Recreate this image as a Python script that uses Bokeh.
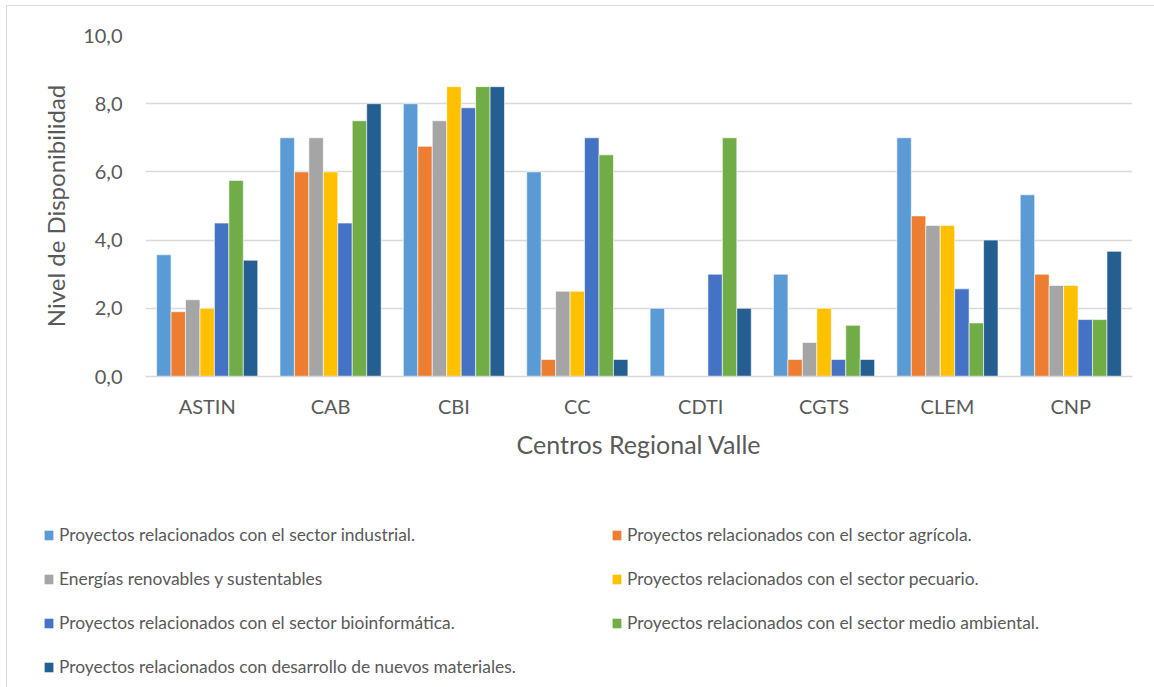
from bokeh.plotting import figure
from bokeh.layouts import column
from bokeh.models import (FactorRange, Range1d, Legend, LegendItem,
                          CustomJSTickFormatter, FixedTicker, ColumnDataSource)
from bokeh.transform import dodge
from bokeh.embed import file_html
from bokeh.resources import INLINE

# Regional centres on the x axis
centros = ["ASTIN", "CAB", "CBI", "CC", "CDTI", "CGTS", "CLEM", "CNP"]

# Availability level per project line, one value per centre
industrial = [3.57, 7.0, 8.0, 6.0, 2.0, 3.0, 7.0, 5.33]
agricola = [1.9, 6.0, 6.75, 0.5, 0.0, 0.5, 4.71, 3.0]
energias = [2.25, 7.0, 7.5, 2.5, 0.0, 1.0, 4.43, 2.67]
pecuario = [2.0, 6.0, 8.5, 2.5, 0.0, 2.0, 4.43, 2.67]
bioinformatica = [4.5, 4.5, 7.88, 7.0, 3.0, 0.5, 2.57, 1.67]
medio_ambiental = [5.75, 7.5, 8.5, 6.5, 7.0, 1.5, 1.57, 1.67]
nuevos_materiales = [3.41, 8.0, 8.5, 0.5, 2.0, 0.5, 4.0, 3.67]

series_names = [
    "Proyectos relacionados con el sector industrial.",
    "Proyectos relacionados con el sector agrícola.",
    "Energías renovables y sustentables",
    "Proyectos relacionados con el sector pecuario.",
    "Proyectos relacionados con el sector bioinformática.",
    "Proyectos relacionados con el sector medio ambiental.",
    "Proyectos relacionados con desarrollo de nuevos materiales.",
]
series_values = [industrial, agricola, energias, pecuario,
                 bioinformatica, medio_ambiental, nuevos_materiales]
colors = ["#5B9BD5", "#ED7D31", "#A5A5A5", "#FFC000",
          "#4472C4", "#70AD47", "#255E91"]

y_ticks = [0, 2, 4, 6, 8, 10]

FONT = "Lato"
TEXT = "#595959"
GRID = "#D9D9D9"

source = ColumnDataSource(dict(centro=centros,
                               **{f"s{i}": v for i, v in enumerate(series_values)}))

n = len(series_values)
group = 0.82
bar_w = group / n
offsets = [(i - (n - 1) / 2) * bar_w for i in range(n)]

# ---- bar chart ----
p = figure(x_range=FactorRange(*centros, range_padding=0), y_range=(0, 10),
           width=1147, height=464, output_backend="svg", toolbar_location=None,
           min_border_left=138, min_border_right=22, min_border_top=29,
           min_border_bottom=94)
p.frame_align = False
p.outline_line_color = None
p.background_fill_color = "white"
p.border_fill_color = "white"

for i in range(n):
    p.vbar(x=dodge("centro", offsets[i], range=p.x_range), top=f"s{i}",
           width=bar_w, source=source, fill_color=colors[i],
           line_color="white", line_width=0.6)

p.yaxis.ticker = FixedTicker(ticks=y_ticks)
p.yaxis.formatter = CustomJSTickFormatter(code="return tick.toFixed(1).replace('.', ',');")
p.yaxis.axis_line_color = None
p.yaxis.major_tick_line_color = None
p.yaxis.minor_tick_line_color = None
p.yaxis.major_label_standoff = 17
p.yaxis.major_label_text_font = FONT
p.yaxis.major_label_text_font_size = "20px"
p.yaxis.major_label_text_color = TEXT
p.yaxis.axis_label = "Nivel de Disponibilidad"
p.yaxis.axis_label_text_font = FONT
p.yaxis.axis_label_text_font_size = "24px"
p.yaxis.axis_label_text_font_style = "normal"
p.yaxis.axis_label_text_color = TEXT
p.yaxis.axis_label_standoff = 10

p.xaxis.axis_line_color = GRID
p.xaxis.axis_line_width = 1.5
p.xaxis.major_tick_line_color = None
p.xaxis.minor_tick_line_color = None
p.xaxis.major_label_standoff = 11
p.xaxis.major_label_text_font = FONT
p.xaxis.major_label_text_font_size = "20px"
p.xaxis.major_label_text_color = TEXT
p.xaxis.axis_label = "Centros Regional Valle"
p.xaxis.axis_label_text_font = FONT
p.xaxis.axis_label_text_font_size = "25px"
p.xaxis.axis_label_text_font_style = "normal"
p.xaxis.axis_label_text_color = TEXT
p.xaxis.axis_label_standoff = 8

p.xgrid.grid_line_color = None
p.ygrid.grid_line_color = GRID
p.ygrid.grid_line_width = 1.5

# ---- legend strip under the chart ----
# the strip's y range sits above every bar, so its renderers only feed the legend
lg = figure(width=1147, height=217, output_backend="svg", toolbar_location=None,
            x_range=FactorRange(*centros), y_range=Range1d(11, 12),
            x_axis_location=None, y_axis_location=None,
            min_border=0, min_border_left=0, min_border_right=0,
            min_border_top=0, min_border_bottom=0, outline_line_color=None)
lg.frame_align = False
lg.grid.visible = False
swatches = [lg.vbar(x=dodge("centro", offsets[i], range=lg.x_range), top=f"s{i}",
                    width=bar_w, source=source, fill_color=colors[i],
                    line_color=None)
            for i in range(n)]


def legend_column(idx, loc):
    leg = Legend(items=[LegendItem(label=series_names[i], renderers=[swatches[i]])
                        for i in idx],
                 location=loc, orientation="vertical")
    leg.border_line_color = None
    leg.background_fill_alpha = 0
    leg.padding = 0
    leg.margin = 0
    leg.spacing = 23
    leg.glyph_width = 11
    leg.glyph_height = 12
    leg.label_height = 20
    leg.label_standoff = 5
    leg.label_text_font = FONT
    leg.label_text_font_size = "17.4px"
    leg.label_text_color = TEXT
    return leg


# left column: odd-numbered entries, right column: even-numbered entries
lg.add_layout(legend_column([0, 2, 4, 6], (36, 10)), "center")
lg.add_layout(legend_column([1, 3, 5], (604, 10 + 44)), "center")

page = column(p, lg, spacing=0,
              styles={"margin-left": "6px", "margin-top": "5px",
                      "border-left": "1px solid #D9D9D9",
                      "border-top": "1px solid #D9D9D9"})

open("out.html", "w").write(file_html(page, INLINE))
